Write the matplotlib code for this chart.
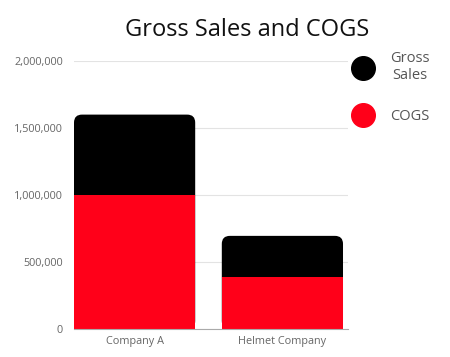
import matplotlib.pyplot as plt
from matplotlib.patches import FancyBboxPatch
from matplotlib.lines import Line2D

plt.rcParams['font.family'] = ['Open Sans', 'DejaVu Sans']

companies = ["Company A", "Helmet Company"]
gross_sales = [1600000, 695000]
cogs = [1000000, 387000]
yticks = [0, 500000, 1000000, 1500000, 2000000]

fig = plt.figure(figsize=(4.5, 3.57), dpi=100)
ax = fig.add_axes([74 / 450, 28 / 357, 274 / 450, 268 / 357])

bar_w = 0.82
xs = list(range(len(companies)))

# px -> data units, used to keep the rounded corners circular
x_per_px = 1 / 148
y_per_px = 2000000 / 268
aspect = y_per_px / x_per_px

for x, g in zip(xs, gross_sales):
    box = FancyBboxPatch((x - bar_w / 2, 0), bar_w, g,
                         boxstyle="round,pad=0,rounding_size=%f" % (8 * x_per_px),
                         mutation_aspect=aspect, facecolor="black",
                         edgecolor="none", zorder=2)
    ax.add_patch(box)
ax.bar(xs, cogs, width=bar_w, color="#ff0019", zorder=3)

ax.set_xlim(-bar_w / 2, 1 + bar_w / 2 + 5 * x_per_px)
ax.set_ylim(0, 2000000)
ax.set_yticks(yticks)
ax.set_yticklabels([f"{v:,}" for v in yticks])
ax.set_xticks(xs)
ax.set_xticklabels(companies)
ax.tick_params(axis="both", length=0, labelsize=7.8, colors="#666666")
ax.tick_params(axis="y", pad=8)
ax.tick_params(axis="x", pad=5)
ax.grid(axis="y", color="#e3e3e3", linewidth=0.8, zorder=0)
ax.set_axisbelow(True)
for side in ["top", "right", "left"]:
    ax.spines[side].set_visible(False)
ax.spines["bottom"].set_color("#aaaaaa")
ax.spines["bottom"].set_zorder(4)

fig.text(0.55, 1 - 30 / 357, "Gross Sales and COGS", ha="center", va="center",
         fontsize=17, color="#111111")

handles = [Line2D([], [], marker="o", linestyle="none", markersize=17, color="black"),
           Line2D([], [], marker="o", linestyle="none", markersize=17, color="#ff0019")]
leg = fig.legend(handles, ["Gross\nSales", "COGS"], loc="upper left",
                 bbox_to_anchor=(339 / 450, 1 - 38 / 357), frameon=False,
                 fontsize=10.5, labelspacing=1.75, handletextpad=1.1, handlelength=1.5)
for t in leg.get_texts():
    t.set_color("#555555")
    t.set_multialignment("center")

fig.savefig("out.png", dpi=100)
